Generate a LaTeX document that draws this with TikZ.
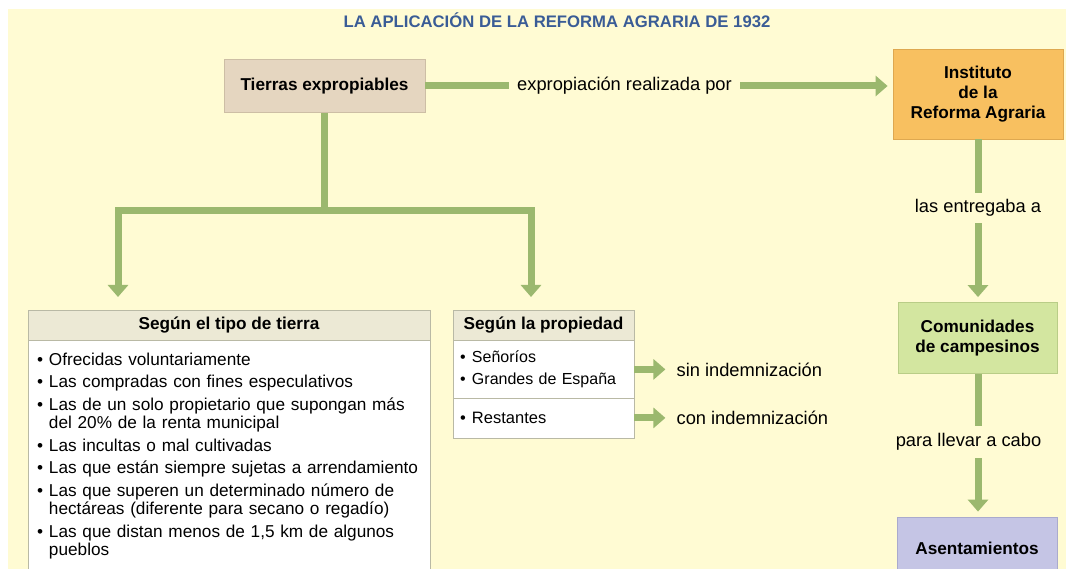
\documentclass[tikz,border=0pt]{standalone}
\usepackage{fontspec}
\setmainfont{Liberation Sans}
\usetikzlibrary{arrows.meta}
\definecolor{bg}{RGB}{255,251,211}
\definecolor{flowgreen}{RGB}{155,184,110}
\definecolor{titleblue}{RGB}{58,92,150}
\definecolor{tierrasfill}{RGB}{229,214,192}
\definecolor{tierrasdraw}{RGB}{205,190,165}
\definecolor{instfill}{RGB}{248,192,96}
\definecolor{instdraw}{RGB}{222,168,80}
\definecolor{comfill}{RGB}{211,230,160}
\definecolor{comdraw}{RGB}{185,205,135}
\definecolor{asenfill}{RGB}{197,197,229}
\definecolor{asendraw}{RGB}{170,170,205}
\definecolor{hdrfill}{RGB}{236,233,213}
\definecolor{boxdraw}{RGB}{185,185,165}
\newcommand\bl{\makebox[12pt][l]{•}}
\newcommand\ind{\hspace*{12pt}}
\hyphenpenalty=10000
\exhyphenpenalty=10000
\begin{document}
\begin{tikzpicture}[x=1pt,y=-1pt,
  flow/.style={line width=7pt, draw=flowgreen, line cap=butt, line join=miter},
  flowarrow/.style={flow, -{Triangle[width=20pt,length=12pt]}},
  concept/.style={rectangle, draw, line width=0.8pt, align=center, inner sep=2pt,
    font=\fontsize{17.2}{20}\selectfont\bfseries},
  hdr/.style={rectangle, draw=boxdraw, fill=hdrfill, line width=0.8pt, minimum height=30pt,
    inner sep=0pt, font=\fontsize{17.2}{20}\selectfont\bfseries},
  listbody/.style={rectangle, draw=boxdraw, fill=white, line width=0.8pt, align=left,
    inner xsep=12pt, inner ysep=0pt, anchor=north,
    font=\fontsize{17.2}{18.5}\selectfont},
  lbl/.style={fill=bg, inner xsep=8pt, inner ysep=5pt, font=\fontsize{18.3}{21}\selectfont},
  sidelbl/.style={inner sep=0pt, anchor=west, font=\fontsize{18.3}{21}\selectfont}
]
\useasboundingbox (0,0) rectangle (1066,569);
\fill[bg] (8,9) rectangle (1066,569);

% title
\node[font=\fontsize{16.7}{20}\selectfont\bfseries, text=titleblue] (title) at (557,20)
  {LA APLICACIÓN DE LA REFORMA AGRARIA DE 1932};

% main concept boxes
\node[concept, fill=tierrasfill, draw=tierrasdraw, minimum width=201pt, minimum height=53pt]
  (tierras) at (324.5,86) {Tierras expropiables};
\node[concept, fill=instfill, draw=instdraw, minimum width=170pt, minimum height=90pt]
  (inst) at (978,94) {Instituto\\de la\\Reforma Agraria};
\node[concept, fill=comfill, draw=comdraw, minimum width=159pt, minimum height=71pt]
  (com) at (977.5,338) {Comunidades\\de campesinos};
\node[concept, fill=asenfill, draw=asendraw, minimum width=160pt, minimum height=62pt]
  (asen) at (977,548) {Asentamientos};

% left list box
\node[hdr, minimum width=402pt] (hdrL) at (229,325.5) {Según el tipo de tierra};
\node[listbody, text width=384pt, inner xsep=9pt, minimum height=230pt] (bodyL) at (229,340.5)
  {\bl Ofrecidas voluntariamente\\[4pt]
   \bl Las compradas con fines especulativos\\[4pt]
   \bl Las de un solo propietario que supongan más\\
   \ind del 20\% de la renta municipal\\[4pt]
   \bl Las incultas o mal cultivadas\\[4pt]
   \bl Las que están siempre sujetas a arrendamiento\\[4pt]
   \bl Las que superen un determinado número de\\
   \ind hectáreas (diferente para secano o regadío)\\[4pt]
   \bl Las que distan menos de 1,5 km de algunos\\
   \ind pueblos};

% middle list box
\node[hdr, minimum width=181pt] (hdrM) at (543.5,325.5) {Según la propiedad};
\node[listbody, text width=167pt, inner xsep=7pt, minimum height=57pt,
  font=\fontsize{16}{18.5}\selectfont] (bodyM1) at (543.5,340.5)
  {\bl Señoríos\\[3pt] \bl Grandes de España};
\node[listbody, text width=167pt, inner xsep=7pt, minimum height=40pt,
  font=\fontsize{16.5}{18.5}\selectfont] (bodyM2) at (543.5,397.5)
  {\bl Restantes};

% side labels
\node[sidelbl] (sin) at ([xshift=42pt]bodyM1.east) {sin indemnización};
\node[sidelbl] (con) at ([xshift=42pt]bodyM2.east) {con indemnización};
\draw[flowarrow, shorten >=11pt] (bodyM1.east) -- (sin.west);
\draw[flowarrow, shorten >=11pt] (bodyM2.east) -- (con.west);

% tree from Tierras expropiables
\coordinate (hub) at (324.5,211);
\coordinate (tipL) at (118,297);
\coordinate (tipR) at (531,297);
\draw[flow] (tierras.south) -- (hub);
\draw[flowarrow] (hub) -| (tipL);
\draw[flowarrow] (hub) -| (tipR);

% top arrow with label
\draw[flowarrow, shorten >=5pt] (tierras.east) -- (inst.west |- tierras.east);
\node[lbl] (lblE) at (624.5,86) {expropiación realizada por};

% right column arrows
\draw[flowarrow, shorten >=5pt] (inst.south) -- (inst.south |- com.north);
\node[lbl, inner xsep=2pt, inner ysep=6pt] (lblA) at (978,208) {las entregaba a};
\draw[flowarrow, shorten >=5pt] (com.south -| inst.south) -- (inst.south |- asen.north);
\node[lbl, inner xsep=2pt, inner ysep=7pt] (lblB) at (968.5,442) {para llevar a cabo};
\end{tikzpicture}
\end{document}
